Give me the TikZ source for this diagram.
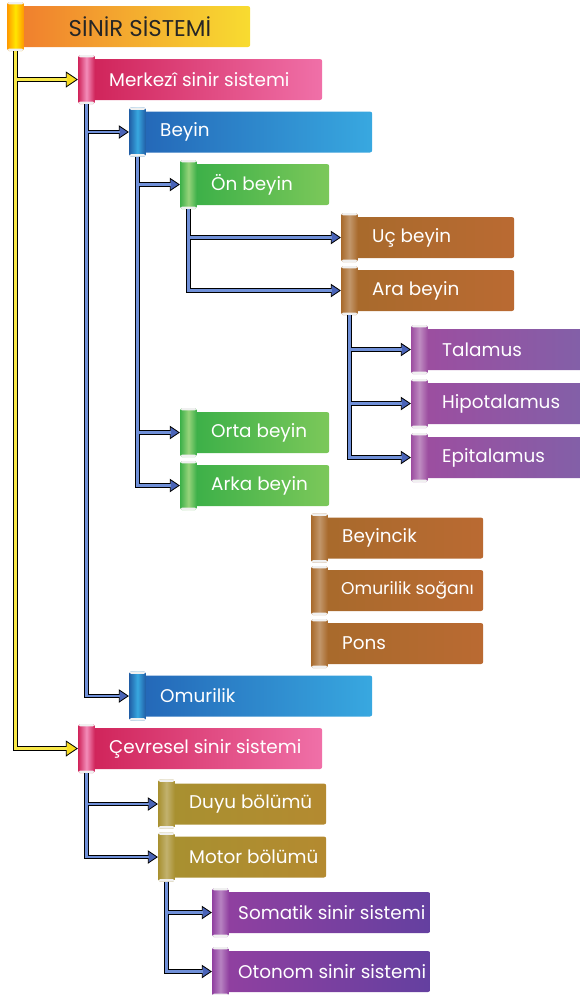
\documentclass[tikz,border=0pt]{standalone}
\usepackage{fontspec}
\setmainfont{Poppins}
\usetikzlibrary{arrows.meta,positioning}

% banner colours
\definecolor{orangeA}{HTML}{F07F2E}\definecolor{orangeB}{HTML}{F8DC30}
\definecolor{pinkA}{HTML}{D0245A}\definecolor{pinkB}{HTML}{F070A8}
\definecolor{blueA}{HTML}{2468B8}\definecolor{blueB}{HTML}{38A8E0}
\definecolor{greenA}{HTML}{3CB048}\definecolor{greenB}{HTML}{7CC85A}
\definecolor{brownA}{HTML}{A86A2C}\definecolor{brownB}{HTML}{BA6A32}
\definecolor{plumA}{HTML}{9C4EA0}\definecolor{plumB}{HTML}{8260A8}
\definecolor{oliveA}{HTML}{A89030}\definecolor{oliveB}{HTML}{B48A30}
\definecolor{violetA}{HTML}{9040A0}\definecolor{violetB}{HTML}{6440A0}
% connector colours
\definecolor{goldline}{HTML}{F8E848}\definecolor{goldtip}{HTML}{F8DC20}
\definecolor{navyline}{HTML}{7090D8}\definecolor{navytip}{HTML}{4A64B8}

% style, name, position, width (px), text
\newcommand{\scroll}[6][0.51cm]{%
  \node[banner, #2, minimum width=#5*0.03cm] (#3) at (#4) {};
  \node[roll, #2 roll] (#3r) at ([xshift=0.09cm]#3.west) {};
  \node[scrolltext] (#3t) at ([xshift=#1]#3.west) {#6};}

\begin{document}
\begin{tikzpicture}[x=0.03cm, y=-0.03cm, every node/.style={font=\fontsize{15.7}{18}\selectfont}]
\tikzset{
  banner/.style={anchor=west, rounded corners=2pt, minimum height=1.23cm, inner sep=0pt},
  roll/.style={anchor=east, rounded corners=1.5pt, minimum width=0.5cm, minimum height=1.47cm, inner sep=0pt,
    path picture={
      \fill[white!88!gray] (path picture bounding box.north west) rectangle ([yshift=-2pt]path picture bounding box.north east);
      \fill[white!88!gray] (path picture bounding box.south west) rectangle ([yshift=2pt]path picture bounding box.south east);}},
  scrolltext/.style={anchor=west, text=white, inner sep=0pt},
  orange/.style={left color=orangeA, right color=orangeB},
  orange roll/.style={left color=orange!80!yellow, right color=orange!80!yellow, middle color=yellow!80!orange},
  pink/.style={left color=pinkA, right color=pinkB},
  pink roll/.style={left color=pinkA, right color=pinkA, middle color=pinkB!80!white},
  blue/.style={left color=blueA, right color=blueB},
  blue roll/.style={left color=blueA!90!black, right color=blueA!90!black, middle color=blueB},
  green/.style={left color=greenA, right color=greenB},
  green roll/.style={left color=greenA, right color=greenA, middle color=greenB!80!white},
  brown/.style={left color=brownA, right color=brownB},
  brown roll/.style={left color=brownA, right color=brownA, middle color=brownA!70!white},
  plum/.style={left color=plumA, right color=plumB},
  plum roll/.style={left color=plumA, right color=plumA, middle color=plumA!65!white},
  olive/.style={left color=oliveA, right color=oliveB},
  olive roll/.style={left color=oliveA, right color=oliveA, middle color=oliveA!70!white},
  violet/.style={left color=violetA, right color=violetB},
  violet roll/.style={left color=violetA, right color=violetA, middle color=violetA!65!white},
  gold edge/.style={draw=black, line width=3.8pt, -{Triangle[length=0.36cm, width=0.48cm, fill=goldtip, line width=0.7pt]}},
  gold core/.style={draw=goldline, line width=2.2pt, shorten >=0.34cm},
  navy edge/.style={draw=black, line width=3.6pt, -{Triangle[length=0.3cm, width=0.4cm, fill=navytip, line width=0.7pt]}},
  navy core/.style={draw=navyline, line width=2pt, shorten >=0.28cm},
}
\useasboundingbox (0,0) rectangle (579,995);

% title
\node[banner, orange, minimum width=6.87cm] (title) at (21,26.5) {};
\node[roll, orange roll] (titler) at ([xshift=0.09cm]title.west) {};
\node[font=\fontsize{19.5}{22}\selectfont, text=black!85] (titlet) at (140,26.5) {SİNİR SİSTEMİ};

% central nervous system
\scroll{pink}{merk}{92,79.5}{230}{Merkezî sinir sistemi}
\scroll{blue}{beyin}{143,132}{229}{Beyin}
\scroll{green}{on}{194,184.5}{135}{Ön beyin}
\scroll{brown}{uc}{355,237.5}{159}{Uç beyin}
\scroll{brown}{ara}{355,290.5}{159}{Ara beyin}
\scroll{plum}{tal}{425,349.5}{160}{Talamus}
\scroll{plum}{hipo}{425,403.5}{160}{Hipotalamus}
\scroll{plum}{epi}{425,457.5}{160}{Epitalamus}
\scroll{green}{orta}{194,432.5}{135}{Orta beyin}
\scroll{green}{arka}{194,485.5}{135}{Arka beyin}
\scroll{brown}{beyincik}{325,538}{158}{Beyincik}
\scroll[0.48cm]{brown}{sogan}{325,590.5}{158}{\fontsize{14.6}{17}\selectfont Omurilik soğanı}
\scroll{brown}{pons}{325,643.5}{158}{Pons}
\scroll{blue}{omur}{143,696}{229}{Omurilik}

% peripheral nervous system
\scroll{pink}{cevre}{92,748.5}{230}{Çevresel sinir sistemi}
\scroll{olive}{duyu}{172,804}{154}{Duyu bölümü}
\scroll{olive}{motor}{172,857}{154}{Motor bölümü}
\scroll[0.36cm]{violet}{som}{226,912.5}{204}{Somatik sinir sistemi}
\scroll[0.36cm]{violet}{oto}{226,971.5}{204}{Otonom sinir sistemi}

% connectors: black edges first, then the coloured cores
\foreach \s in {edge,core}{
  \foreach \p/\c in {titler/merkr, titler/cevrer}
    \draw[gold \s] (\p.south) |- (\c.west);
  \foreach \p/\c in {merkr/beyinr, merkr/omurr, beyinr/onr, beyinr/ortar, beyinr/arkar,
      onr/ucr, onr/arar, arar/talr, arar/hipor, arar/epir,
      cevrer/duyur, cevrer/motorr, motorr/somr, motorr/otor}
    \draw[navy \s] (\p.south) |- (\c.west);
}
\end{tikzpicture}
\end{document}
